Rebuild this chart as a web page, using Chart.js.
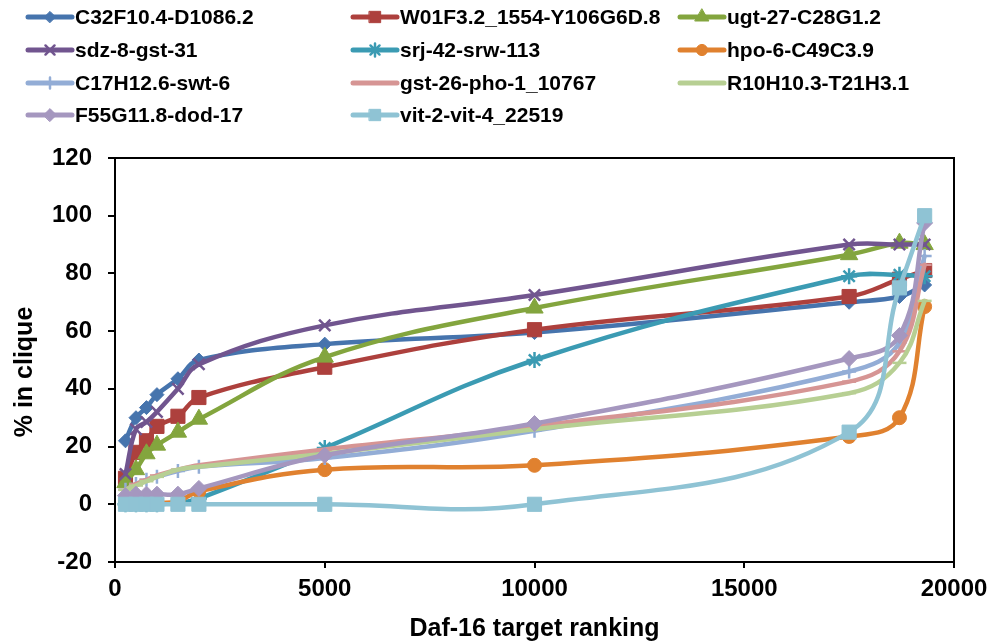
<!DOCTYPE html>
<html>
<head>
<meta charset="utf-8">
<title>% in clique by Daf-16 target ranking</title>
<script src="https://cdn.jsdelivr.net/npm/chart.js@4.4.1/dist/chart.umd.min.js"></script>
<style>
  html, body { margin: 0; padding: 0; background: #fff; }
  canvas { display: block; }
</style>
</head>
<body>
<canvas id="cliqueChart" width="999" height="644"></canvas>
<script>
// ═══════════════════════════════════════════════
// data
// ═══════════════════════════════════════════════
var ranking = [250, 500, 750, 1000, 1500, 2000, 5000, 10000, 17500, 18700, 19300];

var seriesNames = [
    'C32F10.4-D1086.2', 'W01F3.2_1554-Y106G6D.8', 'ugt-27-C28G1.2',
    'sdz-8-gst-31', 'srj-42-srw-113', 'hpo-6-C49C3.9',
    'C17H12.6-swt-6', 'gst-26-pho-1_10767', 'R10H10.3-T21H3.1',
    'F55G11.8-dod-17', 'vit-2-vit-4_22519'
];

var c32f10 = [22, 30, 33.5, 38, 43.5, 50, 55.5, 59.5, 70, 72, 76];
var w01f3  = [9, 18, 22, 27, 30.5, 37, 47.5, 60.5, 72, 78, 81];
var ugt27  = [7.5, 12, 17.5, 20.5, 25, 29.5, 51, 68, 86.5, 90.5, 90];
var sdz8   = [10.5, 26, 28.5, 32, 40, 48.5, 62, 72.5, 90, 90, 90];
var srj42  = [0, 0, 0, 0, 0.5, 2, 19.5, 50, 79, 79.5, 79];
var hpo6   = [0.5, 0.5, 0.5, 0.5, 1, 4.5, 12, 13.5, 23.5, 30, 68.5];
var c17h12 = [5, 7, 8.5, 9.5, 11.5, 13, 16, 25.5, 46, 56, 86];
var gst26  = [5, 7, 8.5, 10, 12, 13.5, 19, 27, 42.5, 53, 83];
var r10h10 = [5, 6.5, 8, 9.5, 12, 13, 17.5, 26, 38.5, 49, 70.5];
var f55g11 = [3, 3.5, 3.5, 3.5, 3.5, 5.5, 17, 28, 50.5, 58.5, 97.5];
var vit2   = [0, 0, 0, 0, 0, 0, 0, 0, 25, 75, 100];

var allSeries = [c32f10, w01f3, ugt27, sdz8, srj42, hpo6, c17h12, gst26, r10h10, f55g11, vit2];

var yTicks = [-20, 0, 20, 40, 60, 80, 100, 120];
var xTicks = [0, 5000, 10000, 15000, 20000];

var xTitle = 'Daf-16 target ranking';
var yTitle = '% in clique';

// --- look of each series (colour, marker, marker size) ---
var looks = [
    { color: '#4674ad', marker: 'rectRot',  size: 7 },
    { color: '#ad403d', marker: 'rect',     size: 10 },
    { color: '#83a53e', marker: 'triangle', size: 10 },
    { color: '#71558f', marker: 'crossRot', size: 8 },
    { color: '#3b9bb3', marker: 'star',     size: 8 },
    { color: '#e0812f', marker: 'circle',   size: 7 },
    { color: '#93add6', marker: 'cross',    size: 7 },
    { color: '#d69594', marker: 'line',     size: 7 },
    { color: '#b7cf93', marker: 'line',     size: 7 },
    { color: '#a597bf', marker: 'rectRot',  size: 8 },
    { color: '#8fc3d4', marker: 'rect',     size: 10 }
];

var FONT = '"Liberation Sans", Arial, sans-serif';
var strokeOnly = ['cross', 'crossRot', 'star', 'line'];

var datasets = allSeries.map(function (vals, i) {
    var lk = looks[i];
    return {
        label: seriesNames[i],
        data: ranking.map(function (x, j) { return { x: x, y: vals[j] }; }),
        showLine: true,
        tension: 0.4,
        borderColor: lk.color,
        backgroundColor: lk.color,
        borderWidth: 4.5,
        borderCapStyle: 'round',
        borderJoinStyle: 'round',
        pointStyle: lk.marker,
        pointRadius: lk.size,
        pointBorderWidth: strokeOnly.indexOf(lk.marker) >= 0 ? 2.5 : 1,
        pointBackgroundColor: lk.color,
        pointBorderColor: lk.color,
        order: allSeries.length - i   // later series drawn on top, like the original
    };
});

// legend laid out in a 3-column grid above the plot
var legendCols = [28, 353, 680];
var legendRows = [17, 50, 83, 115];

var gridLegend = {
    id: 'gridLegend',
    afterDraw: function (chart) {
        var ctx = chart.ctx;
        chart.data.datasets.forEach(function (ds, i) {
            var x = legendCols[i % 3];
            var y = legendRows[Math.floor(i / 3)];
            ctx.save();
            ctx.strokeStyle = ds.borderColor;
            ctx.lineWidth = 5;
            ctx.lineCap = 'round';
            ctx.beginPath();
            ctx.moveTo(x, y);
            ctx.lineTo(x + 44, y);
            ctx.stroke();
            ctx.fillStyle = ds.pointBackgroundColor;
            ctx.strokeStyle = ds.pointBorderColor;
            ctx.lineWidth = ds.pointBorderWidth;
            Chart.helpers.drawPoint(ctx, {
                pointStyle: ds.pointStyle,
                radius: ds.pointRadius * 0.8,
                borderWidth: ds.pointBorderWidth,
                rotation: 0
            }, x + 22, y);
            ctx.fillStyle = '#000';
            ctx.font = 'bold 21px ' + FONT;
            ctx.textAlign = 'left';
            ctx.textBaseline = 'middle';
            ctx.fillText(ds.label, x + 47, y + 1);
            ctx.restore();
        });
    }
};

// black frame round the plot area + the y title (sits a bit below centre in the original)
var plotFrame = {
    id: 'plotFrame',
    beforeDatasetsDraw: function (chart) {
        var a = chart.chartArea, ctx = chart.ctx;
        ctx.save();
        ctx.strokeStyle = '#000';
        ctx.lineWidth = 2;
        ctx.strokeRect(a.left, a.top, a.right - a.left, a.bottom - a.top);

        ctx.translate(25, 372);
        ctx.rotate(-Math.PI / 2);
        ctx.fillStyle = '#000';
        ctx.font = 'bold 25px ' + FONT;
        ctx.textAlign = 'center';
        ctx.textBaseline = 'middle';
        ctx.fillText(yTitle, 0, 0);
        ctx.restore();
    }
};

document.addEventListener('DOMContentLoaded', function () {
    var ctx = document.getElementById('cliqueChart').getContext('2d');
    new Chart(ctx, {
        type: 'scatter',
        data: { datasets: datasets },
        plugins: [plotFrame, gridLegend],
        options: {
            responsive: false,
            animation: false,
            devicePixelRatio: 1,
            layout: { padding: { top: 158, right: 45, left: 0, bottom: 0 } },
            plugins: { legend: { display: false }, tooltip: { enabled: false } },
            scales: {
                x: {
                    type: 'linear',
                    min: xTicks[0],
                    max: xTicks[xTicks.length - 1],
                    afterBuildTicks: function (scale) {
                        scale.ticks = xTicks.map(function (v) { return { value: v }; });
                    },
                    afterFit: function (scale) { scale.height = 82; },
                    ticks: {
                        color: '#000',
                        font: { family: FONT, size: 24, weight: 'bold' },
                        padding: 7,
                        maxRotation: 0,
                        callback: function (v) { return String(v); }
                    },
                    grid: { drawOnChartArea: false, drawTicks: true, tickLength: 6, color: '#000', lineWidth: 2 },
                    border: { display: true, color: '#000', width: 2 },
                    title: {
                        display: true,
                        text: xTitle,
                        color: '#000',
                        font: { family: FONT, size: 25, weight: 'bold', lineHeight: 1.2 },
                        padding: { top: 0, bottom: 0 }
                    }
                },
                y: {
                    type: 'linear',
                    min: yTicks[0],
                    max: yTicks[yTicks.length - 1],
                    afterBuildTicks: function (scale) {
                        scale.ticks = yTicks.map(function (v) { return { value: v }; });
                    },
                    afterFit: function (scale) { scale.width = 115; },
                    ticks: {
                        color: '#000',
                        font: { family: FONT, size: 24, weight: 'bold' },
                        padding: 16
                    },
                    grid: { drawOnChartArea: false, drawTicks: true, tickLength: 7, color: '#000', lineWidth: 2 },
                    border: { display: true, color: '#000', width: 2 }
                }
            }
        }
    });
});
</script>
</body>
</html>
